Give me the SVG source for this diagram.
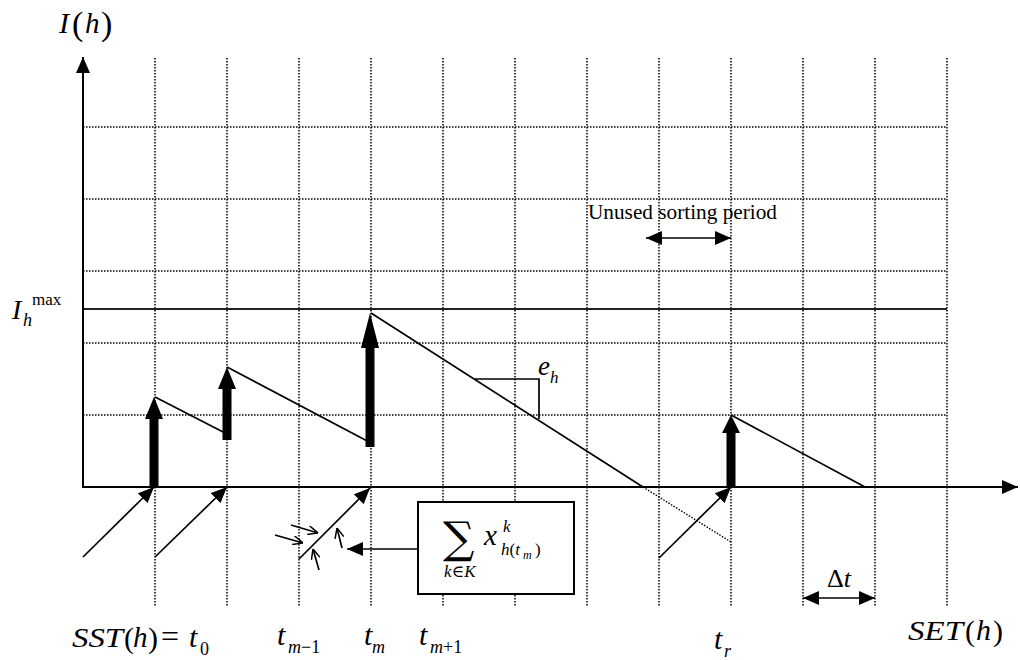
<svg xmlns="http://www.w3.org/2000/svg" width="1020" height="660" viewBox="0 0 1020 660">
<style>
.grid{stroke:#000;stroke-width:1.5;stroke-dasharray:1.5,1.5;fill:none}
.ln{stroke:#000;stroke-width:1.7;fill:none}
.ax{stroke:#000;stroke-width:2;fill:none}
.m{font-family:"Liberation Serif","Times New Roman","DejaVu Serif",serif;font-style:italic;fill:#000}
.u{font-family:"Liberation Serif","Times New Roman","DejaVu Serif",serif;font-style:normal;fill:#000}
.bar{fill:#000}
</style>
<defs>
<marker id="ah" viewBox="0 0 16 14" refX="16" refY="7" markerWidth="16" markerHeight="14" markerUnits="userSpaceOnUse" orient="auto-start-reverse">
<path d="M0,0 L16,7 L0,14 z" fill="#000"/>
</marker>
<marker id="oh" viewBox="0 0 10 10" refX="10" refY="5" markerWidth="10" markerHeight="10" markerUnits="userSpaceOnUse" orient="auto">
<path d="M0,0.5 L10,5 L0,9.5" fill="none" stroke="#000" stroke-width="1.5"/>
</marker>
</defs>
<rect width="1020" height="660" fill="#fff"/>

<g id="grid">
<path class="grid" d="M155,58V607M227,58V607M299,58V607M371,58V607M443,58V607M515,58V607M587,58V607M659,58V607M731,58V607M803,58V607M875,58V607M947,58V607"/>
<path class="grid" d="M83,127H947M83,199H947M83,271H947M83,343H947M83,415H947"/>
<path d="M83,309H947" stroke="#222" stroke-width="2"/>
</g>

<g id="axes">
<line class="ax" x1="83" y1="488" x2="83" y2="57" marker-end="url(#ah)"/>
<line class="ax" x1="83" y1="487" x2="1018" y2="487" marker-end="url(#ah)"/>
</g>

<g id="inventory">
<path class="ln" d="M155,397L227,434M227,367L371,443M371,313L643,487M731,415L865,487"/>
<path d="M643,487L731,542" stroke="#000" stroke-width="1.4" stroke-dasharray="1.5,1.5" fill="none"/>
<path class="ln" d="M475,379H539V419"/>
</g>

<g id="bars">
<polygon class="bar" points="149.5,487 158.5,487 158.5,419 163,419 154,397 145,419 149.5,419"/>
<polygon class="bar" points="222.5,440 231.5,440 231.5,389 236,389 227,367 218,389 222.5,389"/>
<polygon class="bar" points="365.5,447 374.5,447 374.5,348 379,348 370,313 361,348 365.5,348"/>
<polygon class="bar" points="726.5,487 735.5,487 735.5,433 740,433 731,415 722,433 726.5,433"/>
</g>

<g id="connectors">
<line class="ln" x1="83" y1="557" x2="154" y2="487" marker-end="url(#ah)"/>
<line class="ln" x1="155" y1="557" x2="227" y2="487" marker-end="url(#ah)"/>
<line class="ln" x1="299" y1="559" x2="370" y2="488" marker-end="url(#ah)"/>
<line class="ln" x1="659" y1="558" x2="731" y2="487" marker-end="url(#ah)"/>
<line class="ln" x1="275" y1="535" x2="303" y2="543" marker-end="url(#oh)"/>
<line class="ln" x1="291" y1="525" x2="318" y2="533" marker-end="url(#oh)"/>
<line class="ln" x1="319" y1="570" x2="313" y2="549" marker-end="url(#oh)"/>
<line class="ln" x1="342" y1="548" x2="337" y2="528" marker-end="url(#oh)"/>
<line class="ln" x1="418" y1="549" x2="347" y2="549" marker-end="url(#ah)"/>
<line class="ln" x1="646" y1="238" x2="731" y2="238" marker-start="url(#ah)" marker-end="url(#ah)"/>
<line class="ln" x1="803" y1="598" x2="875" y2="598" marker-start="url(#ah)" marker-end="url(#ah)"/>
</g>

<g id="sumbox">
<rect x="418" y="502" width="156" height="92" fill="#fff" stroke="#000" stroke-width="2"/>
<text x="443" y="553" style="font-family:'DejaVu Serif',serif;font-size:44px;fill:#000">∑</text>
<text class="m" x="484" y="545" font-size="29">x</text>
<text class="m" x="503" y="532" font-size="17">k</text>
<text class="m" x="501" y="555" font-size="17">h<tspan class="u">(</tspan>t</text>
<text class="m" x="523" y="559" font-size="12">m</text>
<text class="u" x="535" y="555" font-size="17">)</text>
<text class="m" x="444" y="577" font-size="17">k<tspan class="u">∈</tspan>K</text>
</g>

<g id="labels">
<text class="m" x="59" y="33" font-size="30">I</text>
<text class="u" x="72" y="35" font-size="34">(</text>
<text class="m" x="85" y="33" font-size="29">h</text>
<text class="u" x="101" y="35" font-size="34">)</text>

<text class="m" x="12" y="319" font-size="28">I</text>
<text class="u" x="32" y="305" font-size="17">max</text>
<text class="m" x="23" y="326" font-size="18">h</text>

<text class="m" x="538" y="375" font-size="27">e</text>
<text class="m" x="550" y="383" font-size="17">h</text>

<text class="u" x="588" y="219" font-size="21" textLength="189" lengthAdjust="spacingAndGlyphs">Unused sorting period</text>

<text class="u" x="827" y="587" font-size="26">Δ<tspan class="m">t</tspan></text>

<text class="m" x="908" y="640" font-size="28" textLength="55" lengthAdjust="spacingAndGlyphs">SET</text>
<text class="u" x="965" y="641" font-size="30">(</text>
<text class="m" x="976" y="640" font-size="30">h</text>
<text class="u" x="993" y="641" font-size="30">)</text>

<text class="m" x="72" y="647" font-size="28" textLength="51" lengthAdjust="spacingAndGlyphs">SST</text>
<text class="u" x="124" y="648" font-size="30">(</text>
<text class="m" x="133" y="647" font-size="29">h</text>
<text class="u" x="148" y="648" font-size="30">)</text>
<text class="u" x="161" y="647" font-size="32">=</text>
<text class="m" x="189" y="647" font-size="30">t</text>
<text class="u" x="200" y="655" font-size="18">0</text>

<text class="m" x="277" y="645" font-size="30">t</text>
<text class="m" x="288" y="653" font-size="18">m<tspan class="u">−1</tspan></text>

<text class="m" x="364" y="645" font-size="30">t</text>
<text class="m" x="372" y="653" font-size="18">m</text>

<text class="m" x="419" y="645" font-size="30">t</text>
<text class="m" x="430" y="653" font-size="18">m<tspan class="u">+1</tspan></text>

<text class="m" x="714" y="649" font-size="30">t</text>
<text class="m" x="724" y="657" font-size="18">r</text>
</g>
</svg>
